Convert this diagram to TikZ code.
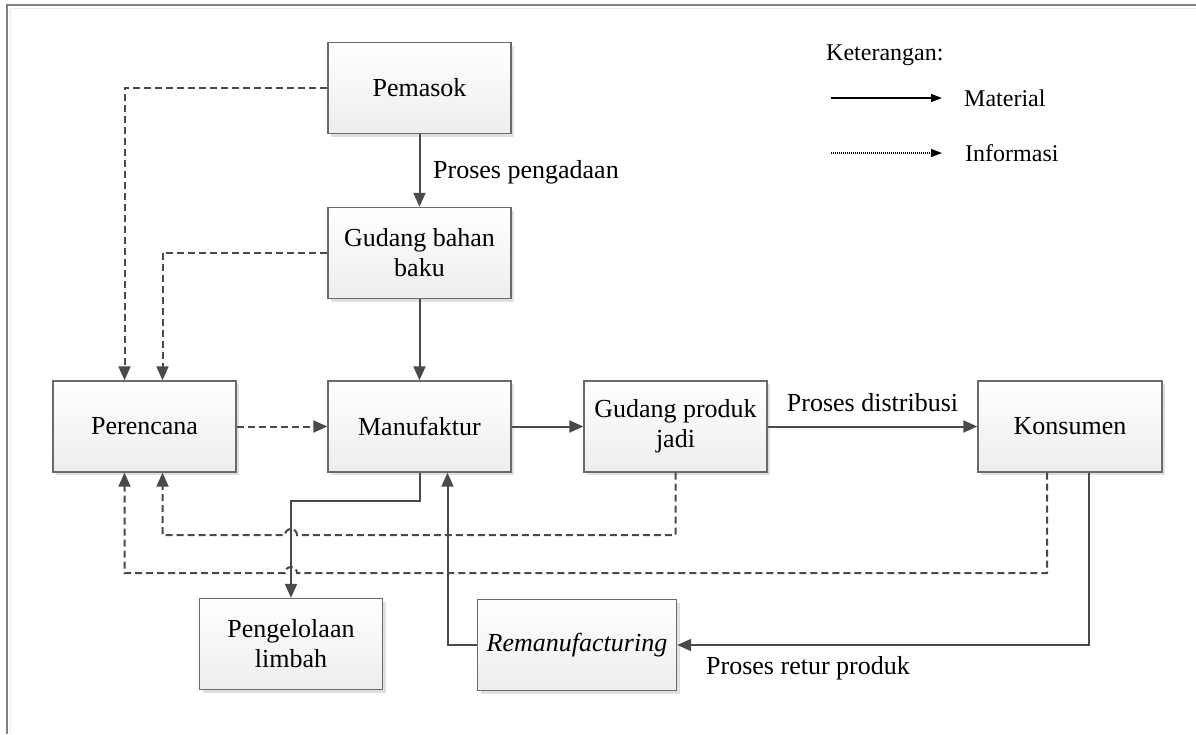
\documentclass[tikz,border=0pt]{standalone}
\usepackage{fontspec}
\setmainfont{Liberation Serif}
\usetikzlibrary{arrows.meta,shadows}
\definecolor{boxline}{HTML}{6A6A6A}
\definecolor{wire}{HTML}{4A4A4A}
\definecolor{framec}{HTML}{808080}
\begin{document}
\begin{tikzpicture}[x=1pt,y=-1pt,
  stepbox/.style={draw=boxline,line width=1.4pt,top color=white,bottom color=black!7,
    minimum width=183pt,minimum height=91pt,align=center,inner sep=2pt,
    font=\fontsize{26}{30}\selectfont,
    drop shadow={shadow xshift=3pt,shadow yshift=-3pt,fill=black!12,opacity=1}},
  lbl/.style={font=\fontsize{26}{30}\selectfont,inner sep=0pt},
  keytext/.style={font=\fontsize{24}{28}\selectfont,inner sep=0pt,anchor=west},
  mat/.style={draw=wire,line width=2pt,-{Triangle[length=14pt,width=12pt]}},
  info/.style={draw=wire,line width=2pt,dash pattern=on 7pt off 4pt,-{Triangle[length=14pt,width=12pt]}},
  keymat/.style={draw=black,line width=1.2pt,-{Triangle[length=11pt,width=8pt]}},
  keyinfo/.style={draw=black,line width=1.2pt,dash pattern=on 1.2pt off 0.8pt,-{Triangle[length=11pt,width=8pt]}}]

% page and frame
\useasboundingbox (0,0) rectangle (1196,734);
\fill[white] (0,0) rectangle (1196,734);
\draw[black!8,line width=1.2pt] (10.5,734) -- (10.5,8.5) -- (1196,8.5);
\draw[framec,line width=2pt] (7,734) -- (7,5) -- (1196,5);

% process boxes
\node[stepbox] (pemasok)   at (419.5,88)  {Pemasok};
\node[stepbox] (gbb)       at (419.5,253) {Gudang bahan\\baku};
\node[stepbox] (perencana) at (144.5,426.5) {Perencana};
\node[stepbox] (manuf)     at (419.5,426.5) {Manufaktur};
\node[stepbox] (gpj)       at (675.5,426.5) {Gudang produk\\jadi};
\node[stepbox,minimum width=184pt] (konsumen) at (1070,426.5) {Konsumen};
\node[stepbox] (limbah)    at (291,644) {Pengelolaan\\limbah};
\node[stepbox,minimum width=199pt] (reman) at (577,645) {\itshape Remanufacturing};

% material flows
\draw[mat] (pemasok) -- (gbb);
\draw[mat] (gbb) -- (manuf);
\draw[mat] (manuf) -- (gpj);
\draw[mat] (gpj) -- (konsumen);
\draw[mat] (manuf.south) -- ++(0,28) -| (limbah.north);
\draw[mat] (reman.west) -| ([xshift=28pt]manuf.south);
\draw[mat] ([xshift=19pt]konsumen.south) |- (reman.east);

% information flows
\draw[info] (pemasok.west) -| ([xshift=-20pt]perencana.north);
\draw[info] (gbb.west) -| ([xshift=18pt]perencana.north);
\draw[info] (perencana) -- (manuf);
\draw[info] (gpj.south) |- (297,535) arc[start angle=0,end angle=180,radius=6pt]
  -| ([xshift=18pt]perencana.south);
\draw[info] ([xshift=-23pt]konsumen.south) |- (297,573) arc[start angle=0,end angle=180,radius=6pt]
  -| ([xshift=-20pt]perencana.south);

% flow labels
\node[lbl,anchor=west] (lpengadaan) at (433,172) {Proses pengadaan};
\node[lbl] (ldistribusi) at (872.5,403) {Proses distribusi};
\node[lbl,anchor=west] (lretur) at (706,668) {Proses retur produk};

% legend
\node[keytext] (ket) at (826,55) {Keterangan:};
\coordinate (m1) at (831,98);
\coordinate (m2) at (942,98);
\coordinate (i1) at (831,153);
\coordinate (i2) at (942,153);
\draw[keymat] (m1) -- (m2);
\draw[keyinfo] (i1) -- (i2);
\node[keytext] (kmat) at (964,98) {Material};
\node[keytext] (kinfo) at (965,153) {Informasi};
\end{tikzpicture}
\end{document}
